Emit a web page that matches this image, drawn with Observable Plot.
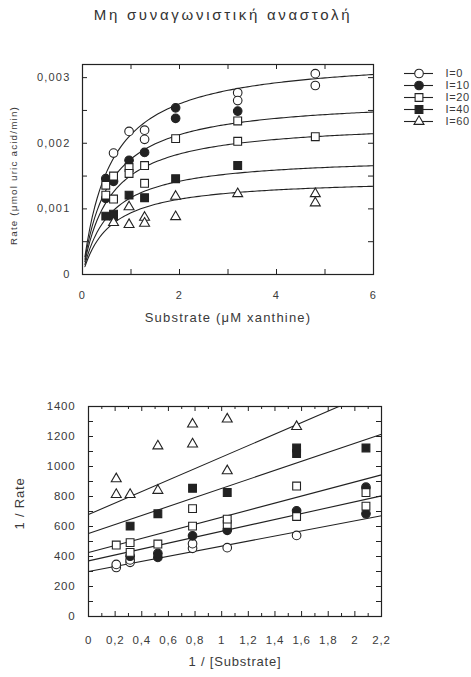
<!DOCTYPE html>
<html>
<head>
<meta charset="utf-8">
<script src="https://cdn.jsdelivr.net/npm/d3@7"></script>
<script src="https://cdn.jsdelivr.net/npm/@observablehq/plot@0.6"></script>
<style>
  body { margin: 0; background: #fff; }
  #page { position: relative; width: 471px; height: 677px; overflow: hidden;
          font-family: "Liberation Sans", Arial, sans-serif; color: #333; background: #fff; }
  #title { position: absolute; left: 223px; top: 6px; transform: translateX(-50%);
           white-space: nowrap; font-size: 15px; letter-spacing: 2.7px; color: #333; }
  .abs { position: absolute; }
  #legend { width: 72px; }
  svg { overflow: visible; }
</style>
</head>
<body>
<div id="page">
  <div id="title">Μη συναγωνιστική αναστολή</div>
  <div id="top" class="abs" style="left:0;top:0"></div>
  <div id="legend" class="abs" style="left:400px;top:67px"></div>
  <div id="bottom" class="abs" style="left:0;top:340px"></div>
</div>
<script>
// ---------------- DATA ----------------
const groupLabels  = ["I=0", "I=10", "I=20", "I=40", "I=60"];
const groupSymbols = ["circle", "circle", "square", "square", "triangle"];
const groupFilled  = [false, true, false, true, false];

// substrate concentrations (µM xanthine)
const substrate = [0.48, 0.64, 0.96, 1.28, 1.92, 3.2, 4.8];

// measured rates (µmol uric acid/min), replicates per substrate concentration
const ratesI0  = [[], [0.00185], [0.00218], [0.00220, 0.00206], [], [0.00277, 0.00265], [0.00306, 0.00288]];
const ratesI10 = [[0.00146, 0.00116], [0.00142], [0.00174], [0.00186], [0.00254, 0.00238], [0.00249], []];
const ratesI20 = [[0.00136, 0.00121], [0.00150, 0.00115], [0.00163, 0.00154], [0.00166, 0.00139], [0.00207], [0.00234, 0.00203], [0.00210]];
const ratesI40 = [[0.00089], [0.00092, 0.00089], [0.00121], [0.00117], [0.00146], [0.00166], []];
const ratesI60 = [[], [0.00079], [0.00103, 0.00076], [0.00087, 0.00078], [0.00119, 0.00088], [0.00123], [0.00123, 0.00109]];
const ratesAll = [ratesI0, ratesI10, ratesI20, ratesI40, ratesI60];

// Lineweaver–Burk fit lines: 1/Rate = intercept + slope * (1/[S])
const lbIntercept = [300, 371, 427, 553, 680];
const lbSlope     = [169, 197, 235, 301, 383];

// axis ticks
const topXTickLabels = [0, 2, 4, 6];
const topXTickMarks  = [1, 2, 3, 4, 5];
const topYTickLabels = [0, 0.001, 0.002, 0.003];
const topYTickMarks  = [0.0005, 0.001, 0.0015, 0.002, 0.0025, 0.003];
const botXTickLabels = [0, 0.2, 0.4, 0.6, 0.8, 1, 1.2, 1.4, 1.6, 1.8, 2, 2.2];
const botXMinorTicks = [0.1, 0.3, 0.5, 0.7, 0.9, 1.1, 1.3, 1.5, 1.7, 1.9, 2.1];
const botXMajorTicks = [0.2, 0.4, 0.6, 0.8, 1, 1.2, 1.4, 1.6, 1.8, 2];
const botYTickLabels = [0, 200, 400, 600, 800, 1000, 1200, 1400];
const botYTickMarks  = [100, 200, 300, 400, 500, 600, 700, 800, 900, 1000, 1100, 1200, 1300];

// ---------------- BUILD ----------------
const locale = d3.formatLocale({decimal: ",", thousands: ".", grouping: [3], currency: ["", ""]});
const fmtComma = locale.format("~g");
const fmtTopY = d => d === 0 ? "0" : locale.format(".3f")(d);

const points = [];
ratesAll.forEach((rows, g) => rows.forEach((reps, i) => reps.forEach(r => points.push({
  g, label: groupLabels[g], s: substrate[i], rate: r, invS: 1 / substrate[i], invRate: 1 / r
}))));

// fitted Michaelis–Menten curves (from the Lineweaver–Burk parameters)
const curveS = d3.range(0.05, 6.0001, 0.05);
const curves = [];
groupLabels.forEach((lab, g) => curveS.forEach(s => curves.push({g, s, rate: s / (lbIntercept[g] * s + lbSlope[g])})));

// straight lines in the double-reciprocal plot, stopped at the frame
const lbLines = [];
groupLabels.forEach((lab, g) => {
  const xEnd = Math.min(2.2, (1400 - lbIntercept[g]) / lbSlope[g]);
  lbLines.push({g, x1: 0, y1: lbIntercept[g], x2: xEnd, y2: lbIntercept[g] + lbSlope[g] * xEnd});
});

const ink = "#222";
const textColor = "#3a3a3a";
const rOf = g => groupSymbols[g] === "triangle" ? 3.7 : groupSymbols[g] === "square" ? 4.4 : 4.3;

function dotMarks(xKey, yKey, filterFn) {
  return groupLabels.map((lab, g) => Plot.dot(points.filter(d => d.g === g && filterFn(d)), {
    x: xKey, y: yKey, symbol: groupSymbols[g], r: rOf(g),
    fill: groupFilled[g] ? ink : "white", stroke: ink, strokeWidth: 1.1
  }));
}

// ---- top chart ----
const tW = 471, tH = 335, tML = 82, tMR = 98, tMT = 64, tMB = 61;
const tInnerW = tW - tML - tMR, tInnerH = tH - tMT - tMB;
const topPlot = Plot.plot({
  width: tW, height: tH,
  marginLeft: tML, marginRight: tMR, marginTop: tMT, marginBottom: tMB,
  style: {fontFamily: "Liberation Sans, Arial, sans-serif", background: "transparent", color: textColor, letterSpacing: "1.2px"},
  x: {domain: [0, 6], axis: null},
  y: {domain: [0, 0.0032], axis: null},
  marks: [
    Plot.axisX(topXTickLabels, {tickSize: 0, tickPadding: 17, tickFormat: d => String(d), fontSize: 11, fill: textColor, label: null}),
    Plot.axisY(topYTickLabels, {tickSize: 0, tickPadding: 12, tickFormat: fmtTopY, fontSize: 11, fill: textColor, label: null}),
    Plot.tickX(topXTickMarks, {x: d => d, insetTop: tInnerH - 5, stroke: ink}),
    Plot.tickX(topXTickMarks, {x: d => d, insetBottom: tInnerH - 5, stroke: ink}),
    Plot.tickY(topYTickMarks, {y: d => d, insetRight: tInnerW - 5, stroke: ink}),
    Plot.tickY(topYTickMarks, {y: d => d, insetLeft: tInnerW - 5, stroke: ink}),
    Plot.line(curves, {x: "s", y: "rate", z: "g", stroke: ink, strokeWidth: 1.1, curve: "linear"}),
    ...dotMarks("s", "rate", d => true),
    Plot.frame({stroke: ink, strokeWidth: 1.2}),
    Plot.text(["Substrate (μM xanthine)"], {text: d => d, frameAnchor: "bottom", dy: 47, fontSize: 13, fill: textColor}),
    Plot.text(["Rate (μmol uric acid/min)"], {text: d => d, frameAnchor: "left", textAnchor: "middle", rotate: -90, dx: -69, dy: 6, fontSize: 9.8, fill: textColor})
  ]
});
document.getElementById("top").appendChild(topPlot);

// ---- legend ----
const legendPlot = Plot.plot({
  width: 72, height: 62, margin: 0,
  style: {fontFamily: "Liberation Sans, Arial, sans-serif", background: "transparent", color: textColor, fontSize: "11px", letterSpacing: "0.6px"},
  x: {domain: [0, 72], range: [0, 72], axis: null},
  y: {domain: groupLabels, type: "point", padding: 0, range: [6, 54], axis: null},
  marks: [
    Plot.ruleY(groupLabels, {y: d => d, x1: 4, x2: 33, stroke: ink, strokeWidth: 1.1}),
    ...groupLabels.map((lab, g) => Plot.dot([lab], {
      x: 18.5, y: d => d, symbol: groupSymbols[g], r: rOf(g),
      fill: groupFilled[g] ? ink : "white", stroke: ink, strokeWidth: 1.1
    })),
    Plot.text(groupLabels, {x: 45, y: d => d, text: d => d, textAnchor: "start", fontSize: 11, fill: textColor})
  ]
});
document.getElementById("legend").appendChild(legendPlot);

// ---- bottom chart ----
const bW = 471, bH = 337, bML = 88, bMR = 90, bMT = 66, bMB = 61;
const bInnerW = bW - bML - bMR, bInnerH = bH - bMT - bMB;
const botPlot = Plot.plot({
  width: bW, height: bH,
  marginLeft: bML, marginRight: bMR, marginTop: bMT, marginBottom: bMB,
  style: {fontFamily: "Liberation Sans, Arial, sans-serif", background: "transparent", color: textColor, letterSpacing: "0.8px"},
  x: {domain: [0, 2.2], axis: null},
  y: {domain: [0, 1400], axis: null},
  marks: [
    Plot.axisX(botXTickLabels, {tickSize: 0, tickPadding: 19, tickFormat: fmtComma, fontSize: 11.5, fill: textColor, label: null}),
    Plot.axisY(botYTickLabels, {tickSize: 0, tickPadding: 13, tickFormat: d => String(d), fontSize: 11.5, fill: textColor, label: null}),
    Plot.tickX(botXMajorTicks, {x: d => d, insetTop: bInnerH - 5, stroke: ink}),
    Plot.tickX(botXMinorTicks, {x: d => d, insetTop: bInnerH - 3, stroke: ink}),
    Plot.tickX(botXMajorTicks, {x: d => d, insetBottom: bInnerH - 5, stroke: ink}),
    Plot.tickX(botXMinorTicks, {x: d => d, insetBottom: bInnerH - 3, stroke: ink}),
    Plot.tickY(botYTickMarks, {y: d => d, insetRight: bInnerW - 5, stroke: ink}),
    Plot.tickY(botYTickMarks, {y: d => d, insetLeft: bInnerW - 5, stroke: ink}),
    Plot.link(lbLines, {x1: "x1", y1: "y1", x2: "x2", y2: "y2", stroke: ink, strokeWidth: 1.1}),
    ...dotMarks("invS", "invRate", d => d.invRate <= 1400),
    Plot.frame({stroke: ink, strokeWidth: 1.2}),
    Plot.text(["1 / [Substrate]"], {text: d => d, frameAnchor: "bottom", dy: 49, fontSize: 13, fill: textColor}),
    Plot.text(["1 / Rate"], {text: d => d, frameAnchor: "left", textAnchor: "middle", rotate: -90, dx: -69, dy: -8, fontSize: 13, fill: textColor})
  ]
});
document.getElementById("bottom").appendChild(botPlot);
</script>
</body>
</html>
